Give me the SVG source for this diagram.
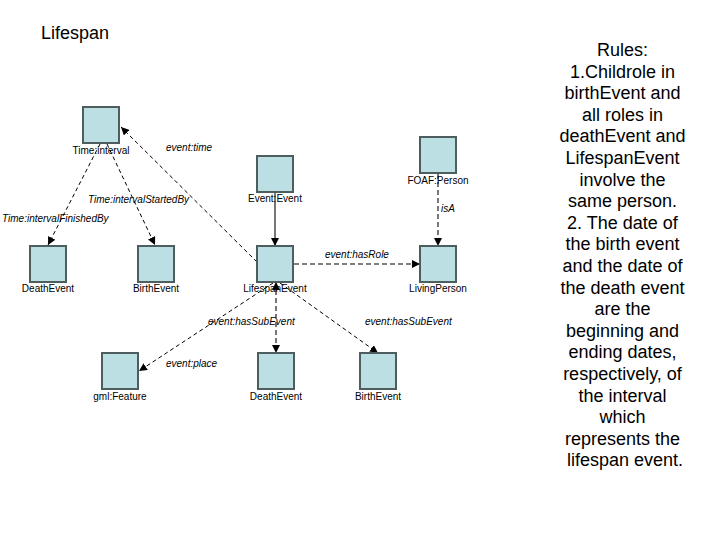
<svg xmlns="http://www.w3.org/2000/svg" width="720" height="540" viewBox="0 0 720 540">
<style>
.box{fill:#bbdfe3;stroke:#4e5d5e;stroke-width:2}
.nl{font-family:"Liberation Sans",Arial,sans-serif;font-size:10px;fill:#000;text-anchor:middle}
.el{font-family:"Liberation Sans",Arial,sans-serif;font-size:10px;font-style:italic;fill:#000}
.thin{fill:none;stroke:#000;stroke-width:1;stroke-dasharray:4 3}
.thick{fill:none;stroke:#555;stroke-width:1.6;stroke-dasharray:5 3}
.solid{fill:none;stroke:#555;stroke-width:1.6}
.rules{font-family:"Liberation Sans",Arial,sans-serif;font-size:18px;fill:#000;text-anchor:middle}
</style>
<defs>
<marker id="ah" viewBox="0 0 10 10" refX="10" refY="5" markerWidth="8" markerHeight="8" markerUnits="userSpaceOnUse" orient="auto-start-reverse">
<path d="M0,0 L10,5 L0,10 z" fill="#000"/>
</marker>
</defs>
<rect width="720" height="540" fill="#fff"/>
<text x="41" y="39" font-family="'Liberation Sans',Arial,sans-serif" font-size="18">Lifespan</text>

<g id="connectors">
<g id="e-finished"><line class="thin" x1="100" y1="144" x2="48" y2="245" marker-end="url(#ah)"/><text class="el" x="2" y="222">Time:intervalFinishedBy</text></g>
<g id="e-started"><line class="thin" x1="107" y1="144" x2="155" y2="245" marker-end="url(#ah)"/><text class="el" x="88" y="203">Time:intervalStartedBy</text></g>
<g id="e-time"><line class="thin" x1="257" y1="262" x2="121" y2="127" marker-end="url(#ah)"/><text class="el" x="166" y="151">event:time</text></g>
<g id="e-subclass"><line class="solid" x1="275" y1="192" x2="275" y2="246" marker-end="url(#ah)"/></g>
<g id="e-hasrole"><line class="thick" x1="294" y1="264" x2="420" y2="264" marker-end="url(#ah)"/><text class="el" x="325" y="258">event:hasRole</text></g>
<g id="e-isa"><line class="thick" x1="438" y1="174" x2="438" y2="246" marker-end="url(#ah)"/><text class="el" x="441" y="212">isA</text></g>
<g id="e-place"><line class="thin" x1="273" y1="283" x2="139" y2="371" marker-end="url(#ah)"/><text class="el" x="166" y="367">event:place</text></g>
<g id="e-sub-death"><line class="thick" x1="276" y1="282" x2="276" y2="353" marker-start="url(#ah)" marker-end="url(#ah)"/><text class="el" x="208" y="325">event:hasSubEvent</text></g>
<g id="e-sub-birth"><line class="thin" x1="280" y1="283" x2="378" y2="353" marker-end="url(#ah)"/><text class="el" x="365" y="325">event:hasSubEvent</text></g>
</g>

<g id="n-interval"><rect class="box" x="83" y="107" width="36" height="36"/><text class="nl" x="101" y="154">Time:interval</text></g>
<g id="n-death1"><rect class="box" x="30" y="246" width="36" height="36"/><text class="nl" x="48" y="292">DeathEvent</text></g>
<g id="n-birth1"><rect class="box" x="138" y="246" width="36" height="36"/><text class="nl" x="156" y="292">BirthEvent</text></g>
<g id="n-event"><rect class="box" x="257" y="156" width="36" height="36"/><text class="nl" x="275" y="202">Event:Event</text></g>
<g id="n-lifespan"><rect class="box" x="257" y="246" width="36" height="36"/><text class="nl" x="275" y="292">LifespanEvent</text></g>
<g id="n-foaf"><rect class="box" x="420" y="137" width="36" height="36"/><text class="nl" x="438" y="184">FOAF:Person</text></g>
<g id="n-living"><rect class="box" x="420" y="246" width="36" height="36"/><text class="nl" x="438" y="292">LivingPerson</text></g>
<g id="n-feature"><rect class="box" x="102" y="353" width="36" height="36"/><text class="nl" x="120" y="400">gml:Feature</text></g>
<g id="n-death2"><rect class="box" x="258" y="353" width="36" height="36"/><text class="nl" x="276" y="400">DeathEvent</text></g>
<g id="n-birth2"><rect class="box" x="360" y="353" width="36" height="36"/><text class="nl" x="378" y="400">BirthEvent</text></g>

<g id="rules">
<text class="rules">
<tspan x="625" y="56">Rules:</tspan>
<tspan x="625" y="77.6">1.Childrole in</tspan>
<tspan x="625" y="99.2">birthEvent and</tspan>
<tspan x="625" y="120.8">all roles in</tspan>
<tspan x="625" y="142.4">deathEvent and</tspan>
<tspan x="625" y="164">LifespanEvent</tspan>
<tspan x="625" y="185.6">involve the</tspan>
<tspan x="625" y="207.2">same person.</tspan>
<tspan x="625" y="228.8">2. The date of</tspan>
<tspan x="625" y="250.4">the birth event</tspan>
<tspan x="625" y="272">and the date of</tspan>
<tspan x="625" y="293.6">the death event</tspan>
<tspan x="625" y="315.2">are the</tspan>
<tspan x="625" y="336.8">beginning and</tspan>
<tspan x="625" y="358.4">ending dates,</tspan>
<tspan x="625" y="380">respectively, of</tspan>
<tspan x="625" y="401.6">the interval</tspan>
<tspan x="625" y="423.2">which</tspan>
<tspan x="625" y="444.8">represents the</tspan>
<tspan x="625" y="466.4">lifespan event.</tspan>
</text>
</g>
</svg>
